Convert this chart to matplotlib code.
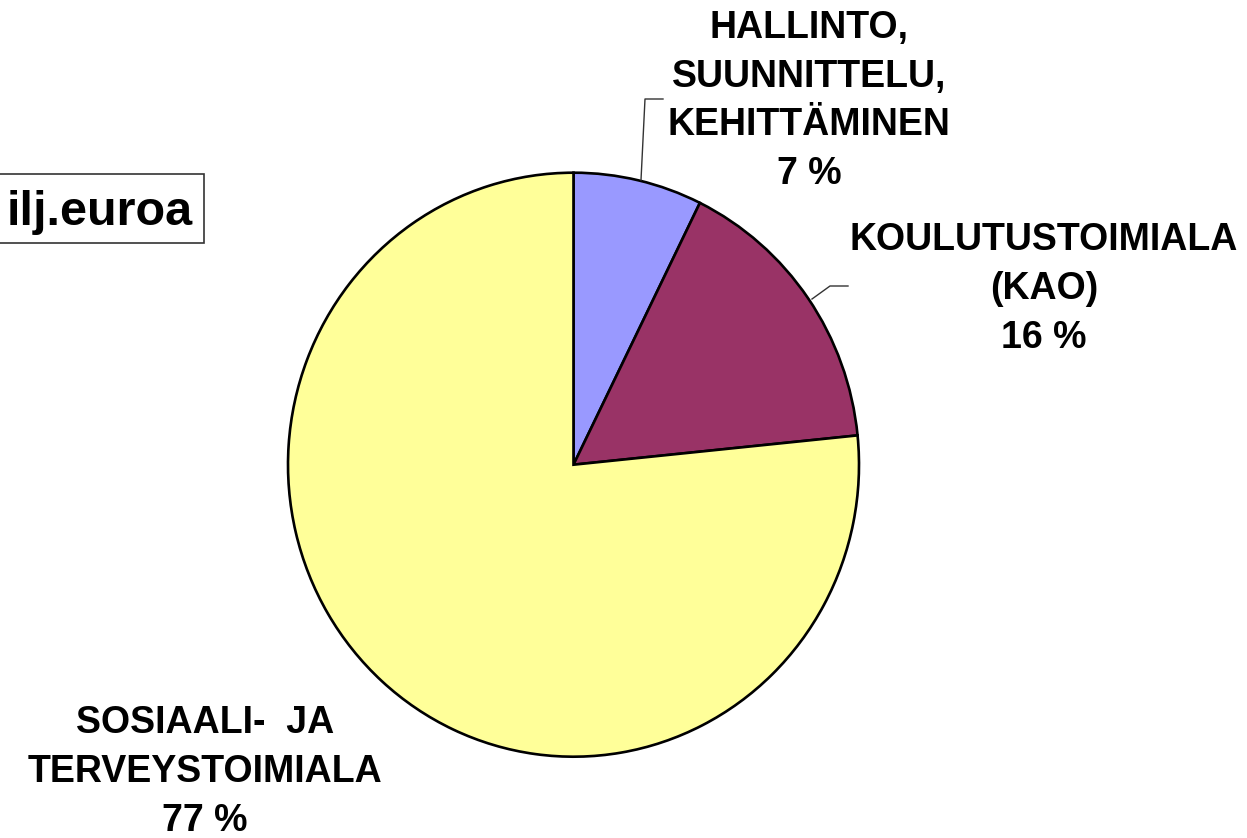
import matplotlib
matplotlib.use("Agg")
import matplotlib.pyplot as plt
import matplotlib.patches as patches

plt.rcParams['font.family'] = ['Liberation Sans', 'DejaVu Sans']

# data
labels = ["HALLINTO,\nSUUNNITTELU,\nKEHITTÄMINEN", "KOULUTUSTOIMIALA\n(KAO)", "SOSIAALI-  JA\nTERVEYSTOIMIALA"]
shares = [7.3, 16.1, 76.6]
colors = ["#9999FF", "#993366", "#FFFF99"]
unit_text = "ilj.euroa"

W, H = 1247, 838
fig = plt.figure(figsize=(W / 100, H / 100), dpi=100)

# pie axes: unit circle, stretched slightly taller than wide like the original
cx, cy, rx, ry = 573.5, 464.7, 285.5, 292
ax = fig.add_axes([0, 0, 1, 1])
ax.pie(shares, colors=colors, startangle=90, counterclock=False,
       radius=1, frame=True,
       wedgeprops=dict(edgecolor='black', linewidth=1.9))
ax.set_aspect('auto')
ax.set_xlim(-cx / rx, (W - cx) / rx)
ax.set_ylim(-(H - cy) / ry, cy / ry)
ax.axis('off')

# overlay in pixel coordinates for labels
ov = fig.add_axes([0, 0, 1, 1])
ov.set_xlim(0, W)
ov.set_ylim(H, 0)
ov.axis('off')

fs = 27
txt = dict(ha='center', va='center', fontsize=fs, fontweight='bold', linespacing=1.45)

label_pos = [(809, 101), (1044, 289), (205, 772)]
for lab, val, (x, y) in zip(labels, shares, label_pos):
    ov.text(x, y, f"{lab}\n{val:.0f} %", **txt)

# leader lines
ov.plot([641, 645, 663], [180, 99, 99], color='#333333', lw=1)
ov.plot([812, 830, 848], [299, 286, 286], color='#333333', lw=1)

# unit box, partly cut off on the left
ov.add_patch(patches.Rectangle((-20, 174), 224, 69, facecolor='white',
                               edgecolor='#333333', lw=1.2, clip_on=False))
ov.text(193, 225, unit_text, ha='right', va='baseline', fontsize=35, fontweight='bold')

fig.savefig("out.png", dpi=100)
